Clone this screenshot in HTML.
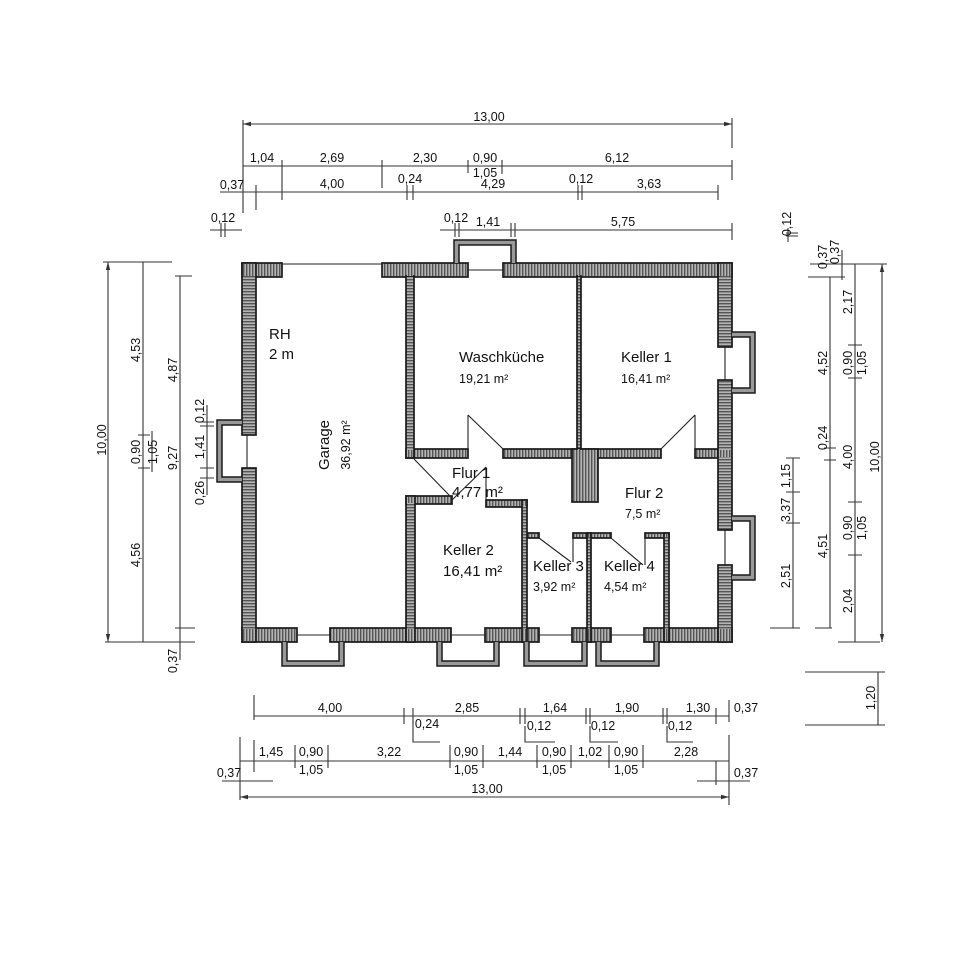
<!DOCTYPE html>
<html><head><meta charset="utf-8"><style>
html,body{margin:0;padding:0;background:#fff}
svg{display:block}
text{font-family:"Liberation Sans",sans-serif;fill:#111}
.d{font-size:12.5px}
.r{font-size:15px}
.a{font-size:12.5px}
</style></head><body>
<svg width="960" height="960" viewBox="0 0 960 960" xmlns="http://www.w3.org/2000/svg">
<defs>
<pattern id="hv" width="3" height="4" patternUnits="userSpaceOnUse"><rect width="3" height="4" fill="#b4b4b4"/><rect width="1.4" height="4" fill="#555"/></pattern>
<pattern id="hh" width="4" height="3" patternUnits="userSpaceOnUse"><rect width="4" height="3" fill="#b4b4b4"/><rect width="4" height="1.4" fill="#555"/></pattern>
<marker id="ar" markerWidth="8" markerHeight="6" refX="8" refY="3" orient="auto" markerUnits="userSpaceOnUse"><path d="M0,0.8 L8,3 L0,5.2z" fill="#333"/></marker>
<marker id="al" markerWidth="8" markerHeight="6" refX="0" refY="3" orient="auto" markerUnits="userSpaceOnUse"><path d="M8,0.8 L0,3 L8,5.2z" fill="#333"/></marker>
</defs>

<g stroke="#1a1a1a" stroke-width="1.7">
<g fill="url(#hv)">
<rect x="242" y="263" width="40" height="14"/>
<rect x="382" y="263" width="86" height="14"/>
<rect x="503" y="263" width="229" height="14"/>
<rect x="242" y="628" width="55" height="14"/>
<rect x="330" y="628" width="121" height="14"/>
<rect x="485" y="628" width="54" height="14"/>
<rect x="572" y="628" width="39" height="14"/>
<rect x="644" y="628" width="88" height="14"/>
<rect x="406" y="449" width="62" height="9"/>
<rect x="503" y="449" width="158" height="9"/>
<rect x="695" y="449" width="23" height="9"/>
<rect x="406" y="496" width="46" height="8"/>
<rect x="486" y="500" width="41" height="7"/>
<rect x="527" y="533" width="12" height="5"/>
<rect x="573" y="533" width="38" height="5"/>
<rect x="645" y="533" width="24" height="5"/>
</g>
<g fill="url(#hh)">
<rect x="242" y="263" width="14" height="172"/>
<rect x="242" y="468" width="14" height="174"/>
<rect x="718" y="263" width="14" height="84"/>
<rect x="718" y="380" width="14" height="150"/>
<rect x="718" y="565" width="14" height="77"/>
<rect x="406" y="276" width="8" height="182"/>
<rect x="406" y="496" width="9" height="146"/>
<rect x="522" y="500" width="5" height="142"/>
<rect x="587" y="533" width="4" height="109"/>
<rect x="664" y="533" width="5" height="109"/>
<rect x="577" y="276" width="4" height="173"/>
</g>
<rect x="572" y="449" width="26" height="53" fill="url(#hv)"/>
</g>
<g fill="url(#hv)">
<rect x="243" y="264" width="12" height="12"/>
<rect x="719" y="264" width="12" height="12"/>
<rect x="243" y="629" width="12" height="12"/>
<rect x="719" y="629" width="12" height="12"/>
<rect x="407" y="629" width="7" height="12"/>
<rect x="523" y="629" width="3" height="12"/>
<rect x="588" y="629" width="2" height="12"/>
<rect x="665" y="629" width="3" height="12"/>
<rect x="407" y="264" width="6" height="12"/>
<rect x="578" y="264" width="2" height="12"/>
<rect x="719" y="450" width="12" height="7"/>
<rect x="573" y="450" width="24" height="7"/>
<rect x="578" y="449" width="2" height="2"/>
<rect x="407" y="450" width="6" height="7"/>
<rect x="407" y="497" width="7" height="6"/>
<rect x="523" y="501" width="3" height="5"/>
<rect x="588" y="534" width="2" height="3"/>
<rect x="665" y="534" width="3" height="3"/>
</g>

<g stroke="#999" stroke-width="4" fill="none">
<path d="M456.5,263 V242.5 H513.5 V263"/>
<path d="M242,422.5 H219.5 V479.5 H242"/>
<path d="M732,334.5 H752.5 V390.5 H732"/>
<path d="M732,518.5 H752.5 V577.5 H732"/>
<path d="M284.5,642 V663.5 H341.5 V642"/>
<path d="M439.5,642 V663.5 H496.5 V642"/>
<path d="M526.5,642 V663.5 H584.5 V642"/>
<path d="M598.5,642 V663.5 H656.5 V642"/>
</g>
<g fill="none" stroke="#1a1a1a" stroke-width="1.5">
<path d="M454,263 V240 H516 V263 M459,263 V245 H511 V263"/>
<path d="M242,420 H217 V482 H242 M242,425 H222 V477 H242"/>
<path d="M732,332 H755 V393 H732 M732,337 H750 V388 H732"/>
<path d="M732,516 H755 V580 H732 M732,521 H750 V575 H732"/>
<path d="M282,642 V666 H344 V642 M287,642 V661 H339 V642"/>
<path d="M437,642 V666 H499 V642 M442,642 V661 H494 V642"/>
<path d="M524,642 V666 H587 V642 M529,642 V661 H582 V642"/>
<path d="M596,642 V666 H659 V642 M601,642 V661 H654 V642"/>
</g>
<g stroke="#222" stroke-width="1.1" fill="none">
<path d="M282,264 H382"/>
<path d="M468,270 H503"/>
<path d="M247,435 V468"/>
<path d="M725,347 V380 M725,530 V565"/>
<path d="M297,635 H330 M451,635 H485 M539,635 H572 M611,635 H644"/>
<path d="M468,415 V449 M468,415 L503,449"/>
<path d="M695,415 V449 M695,415 L661,449"/>
<path d="M414,459 L450,496"/>
<path d="M486,467 V500 M486,467 L452,500"/>
<path d="M573,533 V562 M539,538 L571,562"/>
<path d="M645,533 V565 M611,538 L643,565"/>
</g>

<text class="r" x="269" y="339">RH</text>
<text class="r" x="269" y="359">2 m</text>
<text class="r" x="459" y="362">Waschküche</text>
<text class="a" x="459" y="383">19,21 m²</text>
<text class="r" x="621" y="362">Keller 1</text>
<text class="a" x="621" y="383">16,41 m²</text>
<text class="r" transform="translate(329,445) rotate(-90)" text-anchor="middle">Garage</text>
<text class="a" transform="translate(350,445) rotate(-90)" text-anchor="middle">36,92 m²</text>
<text class="r" x="452" y="478">Flur 1</text>
<text class="r" x="452" y="497">4,77 m²</text>
<text class="r" x="625" y="498">Flur 2</text>
<text class="a" x="625" y="518">7,5 m²</text>
<text class="r" x="443" y="555">Keller 2</text>
<text class="r" x="443" y="576">16,41 m²</text>
<text class="r" x="533" y="571">Keller 3</text>
<text class="a" x="533" y="591">3,92 m²</text>
<text class="r" x="604" y="571">Keller 4</text>
<text class="a" x="604" y="591">4,54 m²</text>

<g stroke="#333" stroke-width="1.1" fill="none">
<path d="M243,124 H732" marker-start="url(#al)" marker-end="url(#ar)"/>
<path d="M243,120 V213 M732,118 V148 M732,160 V180"/>
<path d="M243,166 H732"/>
<path d="M282,160 V200 M382,160 V188 M468,160 V173 M502,160 V174"/>
<path d="M243,192 H718 M220,192 H256"/>
<path d="M256,185 V210 M407,185 V200 M413,185 V200 M578,185 V200 M582,185 V200 M718,185 V200"/>
<path d="M210,230 H242 M221,223 V237 M225,223 V237"/>
<path d="M440,230 H732 M455,223 V237 M459,223 V237 M511,223 V237 M515,223 V237 M732,223 V240"/>
<path d="M103,262 H172 M105,642 H195 M175,276 H192 M175,628 H195"/>
<path d="M108,262 V642" marker-start="url(#al)" marker-end="url(#ar)"/>
<path d="M143,262 V642"/>
<path d="M138,435 H150 M138,468 H150 M152,431 V472"/>
<path d="M180,276 V660"/>
<path d="M207,405 V495 M200,422 H214 M200,426 H214 M200,468 H214 M200,478 H214"/>
<path d="M810,264 H887 M808,277 H845"/>
<path d="M788,228 V242 M786,233 H798 M786,236 H798"/>
<path d="M830,277 V628 M815,628 H832 M824,448 H836 M824,460 H836"/>
<path d="M842,250 V280"/>
<path d="M855,264 V642 M848,345 H862 M848,378 H862 M848,502 H862 M848,555 H862 M838,642 H880"/>
<path d="M882,264 V642" marker-start="url(#al)" marker-end="url(#ar)"/>
<path d="M793,458 V628 M786,458 H800 M786,492 H800 M786,523 H800 M770,628 H800"/>
<path d="M805,672 H885 M805,725 H885 M878,672 V725"/>
<path d="M254,695 V720 M254,716 H729"/>
<path d="M404,708 V724 M413,708 V724 M520,708 V724 M525,708 V724 M586,708 V724 M590,708 V724 M663,708 V724 M667,708 V724 M716,708 V724 M729,700 V722"/>
<path d="M240,737 V800 M254,740 V772 M240,761 H729"/>
<path d="M295,745 V768 M328,745 V768 M450,745 V768 M483,745 V768 M537,745 V768 M571,745 V768 M609,745 V768 M643,745 V768 M729,735 V805 M716,761 V785"/>
<path d="M222,781 H273 M697,781 H750"/>
<path d="M240,797 H729" marker-start="url(#al)" marker-end="url(#ar)"/>
<path d="M413,721 V742 H440 M525,726 V742 H555 M590,726 V742 H618 M667,726 V742 H693"/>
</g>

<g class="d" text-anchor="middle">
<text x="489" y="121">13,00</text>
<text x="262" y="162">1,04</text>
<text x="332" y="162">2,69</text>
<text x="425" y="162">2,30</text>
<text x="485" y="162">0,90</text>
<text x="485" y="177">1,05</text>
<text x="617" y="162">6,12</text>
<text x="232" y="189">0,37</text>
<text x="332" y="188">4,00</text>
<text x="410" y="183">0,24</text>
<text x="493" y="188">4,29</text>
<text x="581" y="183">0,12</text>
<text x="649" y="188">3,63</text>
<text x="223" y="222">0,12</text>
<text x="456" y="222">0,12</text>
<text x="488" y="226">1,41</text>
<text x="623" y="226">5,75</text>
<text x="330" y="712">4,00</text>
<text x="467" y="712">2,85</text>
<text x="427" y="728">0,24</text>
<text x="555" y="712">1,64</text>
<text x="539" y="730">0,12</text>
<text x="627" y="712">1,90</text>
<text x="603" y="730">0,12</text>
<text x="698" y="712">1,30</text>
<text x="680" y="730">0,12</text>
<text x="746" y="712">0,37</text>
<text x="271" y="756">1,45</text>
<text x="311" y="756">0,90</text>
<text x="311" y="774">1,05</text>
<text x="389" y="756">3,22</text>
<text x="466" y="756">0,90</text>
<text x="466" y="774">1,05</text>
<text x="510" y="756">1,44</text>
<text x="554" y="756">0,90</text>
<text x="554" y="774">1,05</text>
<text x="590" y="756">1,02</text>
<text x="626" y="756">0,90</text>
<text x="626" y="774">1,05</text>
<text x="686" y="756">2,28</text>
<text x="229" y="777">0,37</text>
<text x="746" y="777">0,37</text>
<text x="487" y="793">13,00</text>
</g>

<g class="d" text-anchor="middle">
<text transform="translate(106,440) rotate(-90)">10,00</text>
<text transform="translate(140,350) rotate(-90)">4,53</text>
<text transform="translate(140,452) rotate(-90)">0,90</text>
<text transform="translate(157,452) rotate(-90)">1,05</text>
<text transform="translate(140,555) rotate(-90)">4,56</text>
<text transform="translate(177,370) rotate(-90)">4,87</text>
<text transform="translate(177,458) rotate(-90)">9,27</text>
<text transform="translate(177,661) rotate(-90)">0,37</text>
<text transform="translate(204,411) rotate(-90)">0,12</text>
<text transform="translate(204,447) rotate(-90)">1,41</text>
<text transform="translate(204,493) rotate(-90)">0,26</text>
<text transform="translate(791,224) rotate(-90)">0,12</text>
<text transform="translate(827,257) rotate(-90)">0,37</text>
<text transform="translate(839,252) rotate(-90)">0,37</text>
<text transform="translate(852,302) rotate(-90)">2,17</text>
<text transform="translate(827,363) rotate(-90)">4,52</text>
<text transform="translate(852,363) rotate(-90)">0,90</text>
<text transform="translate(866,363) rotate(-90)">1,05</text>
<text transform="translate(827,438) rotate(-90)">0,24</text>
<text transform="translate(852,457) rotate(-90)">4,00</text>
<text transform="translate(879,457) rotate(-90)">10,00</text>
<text transform="translate(790,476) rotate(-90)">1,15</text>
<text transform="translate(790,510) rotate(-90)">3,37</text>
<text transform="translate(790,576) rotate(-90)">2,51</text>
<text transform="translate(827,546) rotate(-90)">4,51</text>
<text transform="translate(852,528) rotate(-90)">0,90</text>
<text transform="translate(866,528) rotate(-90)">1,05</text>
<text transform="translate(852,601) rotate(-90)">2,04</text>
<text transform="translate(875,698) rotate(-90)">1,20</text>
</g>
</svg>
</body></html>
